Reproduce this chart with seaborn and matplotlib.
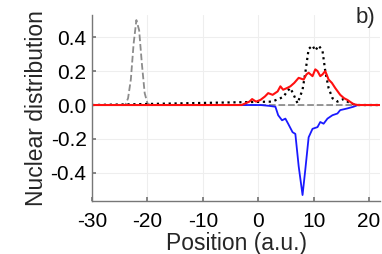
import pandas as pd
import matplotlib
matplotlib.use("Agg")
import matplotlib.pyplot as plt
import seaborn as sns

# Datos
gray_x = [-30, -24.5, -24, -23.5, -23, -22.5, -22, -21.5, -21, -20.5, -20, -19.5, 22]
gray_y = [0.0, 0.0, 0.0, 0.04, 0.15, 0.36, 0.5, 0.44, 0.24, 0.07, 0.01, 0.0, 0.0]

black_x = [-30, 2.5, 4, 4.6, 5.2, 5.8, 6.4, 7.1, 8.0, 8.5, 9.1, 9.8, 10.3, 10.9, 11.6,
           12.1, 12.7, 13.4, 14.3, 15.4, 16.6, 17.9, 22]
black_y = [0.0, 0.02, 0.04, 0.05, 0.08, 0.10, 0.06, 0.01, 0.09, 0.19, 0.33, 0.35, 0.32, 0.35, 0.32,
           0.20, 0.10, 0.04, 0.02, 0.035, 0.01, 0.0, 0.0]

red_x = [-30, -3.0, -2.3, -1.6, -1.1, -0.4, 0.4, 1.2, 1.8, 2.6, 3.5, 4.0, 4.5, 5.2, 5.8,
         6.5, 7.3, 8.2, 8.7, 9.1, 9.8, 10.3, 10.7, 11.2, 11.6, 12.1, 12.7, 13.3, 13.9,
         14.8, 15.5, 16.1, 17.2, 18.0, 22]
red_y = [0.0, 0.0, 0.01, 0.02, 0.035, 0.02, 0.03, 0.05, 0.07, 0.06, 0.08, 0.11, 0.09, 0.10, 0.11,
         0.13, 0.16, 0.15, 0.18, 0.19, 0.17, 0.21, 0.20, 0.17, 0.18, 0.20, 0.15, 0.13, 0.10,
         0.06, 0.04, 0.03, 0.005, 0.0, 0.0]

blue_x = [-30, 0.4, 2.0, 3.1, 3.6, 4.3, 4.9, 5.4, 6.2, 6.7, 7.3, 8.0, 8.5, 9.1, 9.8,
          10.7, 11.2, 11.8, 12.5, 13.4, 14.3, 14.8, 16.1, 17.2, 18.0, 22]
blue_y = [0.0, 0.0, -0.005, -0.01, -0.06, -0.09, -0.08, -0.11, -0.16, -0.17, -0.36, -0.53, -0.38, -0.19, -0.14,
          -0.13, -0.10, -0.11, -0.08, -0.06, -0.05, -0.03, -0.02, -0.01, 0.0, 0.0]

x_ticks = [-30, -20, -10, 0, 10, 20]
y_ticks = [-0.4, -0.2, 0.0, 0.2, 0.4]

sns.set_theme(style="whitegrid")
plt.rcParams['font.family'] = ['Liberation Sans', 'DejaVu Sans']

fig = plt.figure(figsize=(3.82, 2.54), dpi=100)
ax = fig.add_axes([0.241, 0.21, 0.754, 0.731])

sns.lineplot(x=gray_x, y=gray_y, ax=ax, color="#8c8c8c", linestyle="--", linewidth=1.3)
sns.lineplot(x=black_x, y=black_y, ax=ax, color="black", linestyle=":", linewidth=1.6)
sns.lineplot(x=blue_x, y=blue_y, ax=ax, color="#1a1aff", linewidth=1.3)
sns.lineplot(x=red_x, y=red_y, ax=ax, color="#ff1010", linewidth=1.5)

ax.set_xlim(-30, 22)
ax.set_ylim(-0.563, 0.53)
ax.set_xticks(x_ticks)
ax.set_yticks(y_ticks)
ax.set_xticklabels([str(t) for t in x_ticks])
ax.set_yticklabels([f"{t:.1f}" for t in y_ticks])

ax.grid(True, color="#eeeeee", linewidth=0.8)
for side in ["top", "right"]:
    ax.spines[side].set_visible(False)
for side in ["left", "bottom"]:
    ax.spines[side].set_color("#777777")
    ax.spines[side].set_linewidth(1.0)
ax.tick_params(direction="in", length=3, color="#777777", labelsize=15, colors="black",
               left=True, bottom=True)
ax.tick_params(axis="x", pad=8)
ax.tick_params(axis="y", pad=4)

ax.set_xlabel("Position (a.u.)", fontsize=16.5, labelpad=1)
ax.set_ylabel("Nuclear distribution", fontsize=16.5, labelpad=2)
ax.text(0.95, 0.985, "b)", transform=ax.transAxes, fontsize=16, ha="center", va="center")

fig.savefig("out.png", dpi=100)
